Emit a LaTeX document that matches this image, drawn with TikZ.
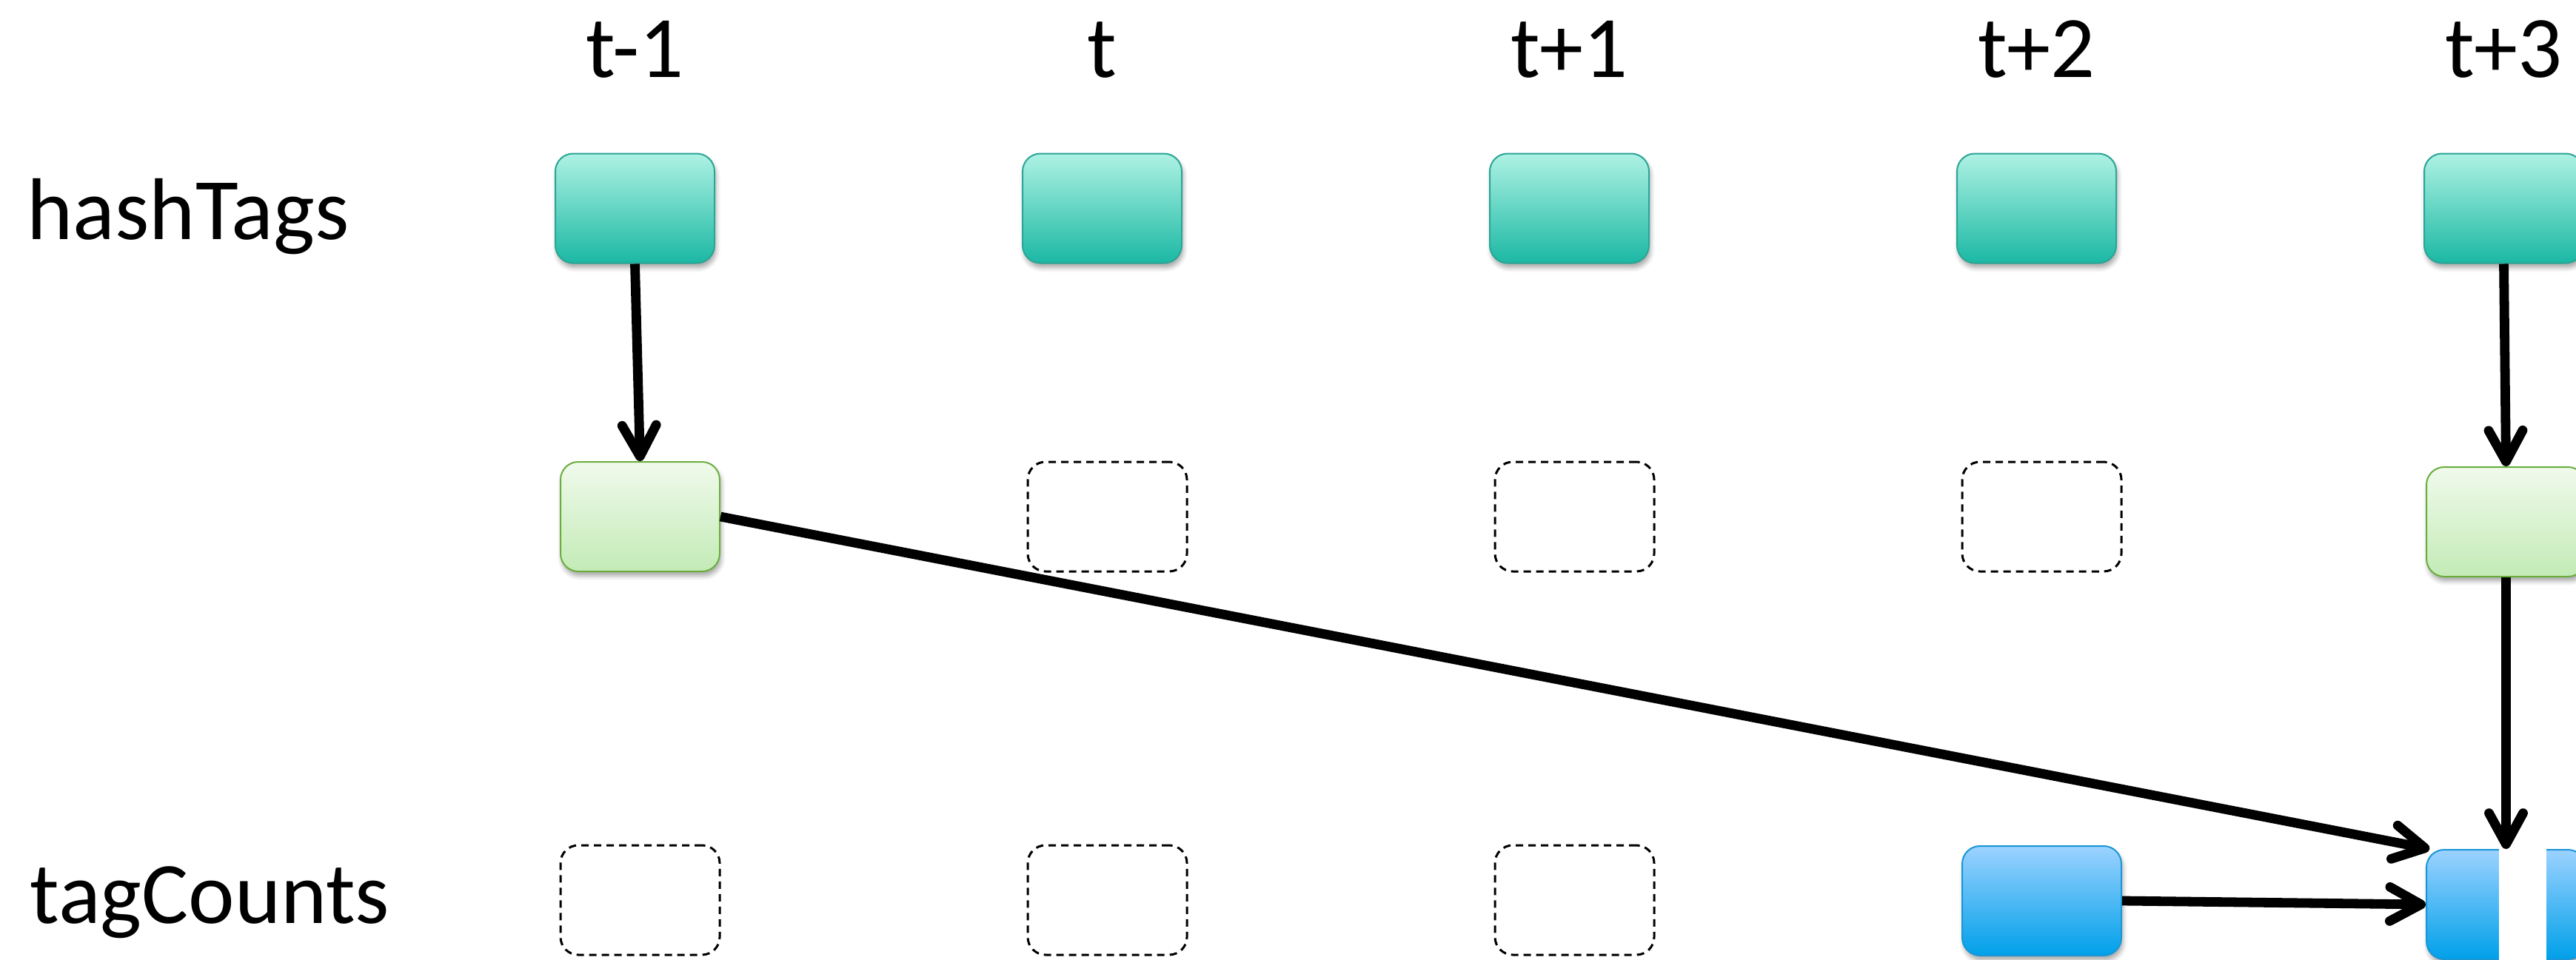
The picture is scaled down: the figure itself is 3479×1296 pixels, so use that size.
\documentclass[tikz,border=0pt]{standalone}
\usepackage{fontspec}
\setmainfont{Carlito}
\usetikzlibrary{arrows.meta,shadows.blur}

\definecolor{hashtop}{HTML}{AEF2E4}
\definecolor{hashbot}{HTML}{1BB8A4}
\definecolor{hashline}{HTML}{2BA596}
\definecolor{greentop}{HTML}{F0FAEC}
\definecolor{greenbot}{HTML}{C3EBB6}
\definecolor{greenline}{HTML}{6AAD3D}
\definecolor{bluetop}{HTML}{9CD2FF}
\definecolor{bluebot}{HTML}{00A0E9}
\definecolor{blueline}{HTML}{1A96D6}

\begin{document}
\begin{tikzpicture}[x=0.25pt,y=-0.25pt,
  box/.style={rectangle, rounded corners=6pt, minimum width=53.75pt,
    minimum height=37pt, inner sep=0pt, line width=0.5pt},
  soft/.style={blur shadow={shadow xshift=0.5pt, shadow yshift=-1.5pt,
    shadow blur radius=1.5pt, shadow opacity=35}},
  hashbox/.style={box, soft, draw=hashline, top color=hashtop, bottom color=hashbot},
  statebox/.style={box, soft, draw=greenline, top color=greentop, bottom color=greenbot},
  countbox/.style={box, soft, draw=blueline, top color=bluetop, bottom color=bluebot},
  emptybox/.style={box, draw=black, line width=0.75pt, dash pattern=on 2.5pt off 1.75pt},
  flow/.style={line width=3.2pt, -{Straight Barb[length=10.5pt,width=11.5pt,round]}},
  lbl/.style={font=\fontsize{29.6}{35}\selectfont, inner sep=0pt},
]
\useasboundingbox (0,0) rectangle (3479,1296);
\clip (0,0) rectangle (3479,1296);

% time step headers
\node[lbl, anchor=base] (tm1) at (857.5,104) {t-1};
\node[lbl, anchor=base] (t0)  at (1488.5,104) {t};
\node[lbl, anchor=base] (tp1) at (2119.5,104) {t+1};
\node[lbl, anchor=base] (tp2) at (2750.5,104) {t+2};
\node[lbl, anchor=base] (tp3) at (3381.5,104) {t+3};

% row labels
\node[lbl, anchor=base west] (rowh) at (36,323) {hashTags};
\node[lbl, anchor=base west] (rowc) at (40,1247) {tagCounts};

% hashTags stream
\node[hashbox] (h1) at (857.5,281.5) {};
\node[hashbox] (h2) at (1488.5,281.5) {};
\node[hashbox] (h3) at (2119.5,281.5) {};
\node[hashbox] (h4) at (2750.5,281.5) {};
\node[hashbox] (h5) at (3381.5,281.5) {};

% intermediate state
\node[statebox] (m1) at (864.5,698) {};
\node[emptybox] (m2) at (1495.5,698) {};
\node[emptybox] (m3) at (2126.5,698) {};
\node[emptybox] (m4) at (2757.5,698) {};
\node[statebox] (m5) at (3384.5,705) {};

% tagCounts stream
\node[emptybox] (c1) at (864.5,1216) {};
\node[emptybox] (c2) at (1495.5,1216) {};
\node[emptybox] (c3) at (2126.5,1216) {};
\node[countbox] (c4) at (2757.5,1217) {};
\node[countbox] (c5) at (3384.5,1222) {};
\fill[white] (3375,1140) rectangle (3439,1300);

% dependencies
\draw[flow] (h1.south) -- (m1.north);
\draw[flow] (h5.south) -- (m5.north);
\draw[flow] (m5.south) -- (c5.north);
\draw[flow] (m1.east) -- (c5.144);
\draw[flow] (c4.east) -- (c5.west);
\end{tikzpicture}
\end{document}
